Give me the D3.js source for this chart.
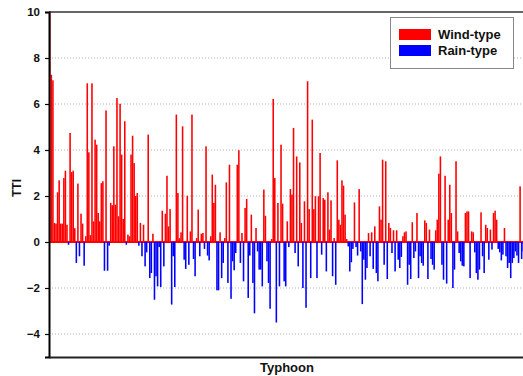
<!DOCTYPE html>
<html><head><meta charset="utf-8">
<script src="https://cdn.jsdelivr.net/npm/d3@7"></script>
<style>body{margin:0;background:#fff}svg{display:block;font-family:"Liberation Sans",Arial,sans-serif}</style>
</head><body><svg id="c" width="523" height="376"></svg>
<script>
// TTI value of each typhoon, left to right (three stretches)
const ttiA = [10, 7.27, 7.03, 0.83, 0.8, 2.16, 2.68, 0.8, 0.8, 2.78,
  3.1, 0.75, -0.12, 4.74, 3.04, 3.1, 0.6, -0.91, 2.54, -0.62,
  1.23, 0.8, -1.03, 0.25, 6.9, 3.9, 0.3, 6.9, 0.9, 4.45,
  4.23, 1.26, 0.9, 2.56, 2.64, -1.25, 5.72, -1.25, -0.16, 1.7,
  1.6, 4.16, 1.62, 6.26, 1.12, 6.01, 3.8, 1.0, 5.25, -0.12,
  0.32, 0.25, 3.8, 4.62, 3.43, 2.0, 2.13, -0.16, 0.83, -0.62,
  0.75, -1.06, -0.45, 4.67, -1.57, -1.35, 0.36, -2.51, -1.49, -1.93,
  -0.22, -1.96, 1.36, -1.06, 1.23, 2.88, 0.68, 1.43, -2.72, -0.62,
  -1.96, 5.54, 2.13, 0.17, 0.42, 5.03, -0.77, -1.17, 2.01, -0.99,
  0.46, 5.54, -0.74, -1.49, 0.17, 1.41, -0.62, 0.36, 0.39];
const ttiB = [-0.3, 4.16, -0.59, -0.8, 0.25, 2.93, 1.7, 2.49, -2.1, -2.1,
  0.42, -1.57, -0.91, 0.17, 2.59, -1.78, 3.36, -2.47, -0.84, -1.23,
  -0.48, 3.36, 3.99, -0.91, 0.39, -1.71, 1.48, 1.87, -2.43, -0.59,
  1.19, -1.78, -3.1, 0.61, -0.41, -1.2, -1.2, -1.93, 2.28, 1.14,
  -0.84, -1.78, -2.9, 0.13, 6.22, 2.78, -3.5, 1.7, -1.93, 4.23,
  1.67, -1.71, -1.93, 0.9, -0.22, 2.3, 2.06, 4.96, -0.48, 3.72,
  -1.06, 3.46, 0.83, -2.0, 1.77, -2.86, 6.99, 1.43, -1.57, 5.32,
  1.43, 1.99, -1.57, 1.99, 3.87, -0.55, 1.91, 1.84, -1.28, 2.16,
  0.54, 1.81, -1.49, 0.17, -1.86, 3.55, 0.97, 0.75, 2.68, 2.45,
  1.19, 0.13, -0.19, -1.28, -0.88, -0.3, 1.72, -0.22, -0.59, 2.3,
  -0.41, -2.7, -0.77];
const ttiC = [-1.64, -1.13, 0.39, -0.62, 0.42, -1.17, 0.68, -1.35, -1.71,
  1.55, 0.97, 3.58, -0.99, 3.51, -1.61, 0.83, 0.61, -0.48, 0.51,
  -1.28, 0.51, -0.77, -1.13, -0.65, 0.25, 0.42, 0.46, -1.86,
  -0.99, -1.61, 0.86, -0.7, -0.41, 1.26, -1.57, -0.62, -0.91,
  -1.03, 0.94, 0.83, -1.61, 0.54, -0.74, -0.99, -1.2, 0.51,
  0.97, 2.97, 3.72, -0.99, -1.64, 2.88, -1.81, 0.97, 2.49, 1.26,
  -2.0, -1.2, 3.51, 0.46, -0.48, -0.84, -1.03, -1.06,
  1.26, 1.33, 1.33, -1.57, 0.46, 0.42, -0.45, -1.35, -1.64,
  -1.2, 1.29, -0.62, -1.35, 0.75, 0.61, -0.77, 0.54, -0.33,
  1.26, 1.36, 0.97, -0.3, -0.45, -0.8, -0.55, 0.61, -0.62,
  -1.13, -0.91, -1.57, -0.91, -0.7,
  -0.41, -0.59, -0.91, 2.42, -0.74, -0.41];
const tti = ttiA.concat(ttiB, ttiC);

const yTicks = [-4, -2, 0, 2, 4, 6, 8, 10];
const gridTicks = [-4, -2, 2, 4, 6, 8];
const seriesNames = ["Wind-type", "Rain-type"];
const seriesColors = ["#ff0000", "#0000ff"];
const xTitle = "Typhoon", yTitle = "TTI";

const svg = d3.select("#c");
const L = 49, R = 524, T = 12, B = 357;

const x = d3.scaleBand().domain(d3.range(tti.length)).range([L, R]).padding(0);
const y = d3.scaleLinear().domain([-5, 10]).range([B, T]);

// dotted grid
svg.append("g").selectAll("line").data(gridTicks).join("line")
  .attr("x1", L).attr("x2", R + 5)
  .attr("y1", d => y(d)).attr("y2", d => y(d))
  .attr("stroke", "#b0b0b0").attr("stroke-width", 1)
  .attr("stroke-dasharray", "1,2");

// zero line
svg.append("line").attr("x1", L).attr("x2", R + 5)
  .attr("y1", y(0)).attr("y2", y(0))
  .attr("stroke", seriesColors[0]).attr("stroke-width", 2);

// bars
svg.append("g").selectAll("rect").data(tti).join("rect")
  .attr("x", (d, i) => x(i))
  .attr("width", x.bandwidth())
  .attr("y", d => d >= 0 ? y(d) : y(0))
  .attr("height", d => Math.abs(y(d) - y(0)))
  .attr("fill", d => d >= 0 ? seriesColors[0] : seriesColors[1]);

// frame: top border
svg.append("line").attr("x1", L).attr("x2", 523).attr("y1", T).attr("y2", T)
  .attr("stroke", "#666").attr("stroke-width", 2);

// left axis
const yAxis = d3.axisLeft(y).tickValues(yTicks).tickSize(4).tickPadding(5).tickFormat(d3.format("d"));
const gy = svg.append("g").attr("transform", `translate(${L},0)`).call(yAxis);
gy.select(".domain").attr("stroke", "#000").attr("stroke-width", 2);
gy.selectAll(".tick line").attr("stroke", "#000").attr("stroke-width", 1.2);
gy.selectAll(".tick text").attr("font-size", 11.5).attr("font-weight", "bold")
  .attr("fill", "#111").attr("font-family", "Liberation Sans, Arial, sans-serif");

// bottom axis line
const xAxis = d3.axisBottom(x).tickValues([]).tickSizeOuter(0);
const gx = svg.append("g").attr("transform", `translate(0,${B})`).call(xAxis);
gx.select(".domain").attr("stroke", "#222").attr("stroke-width", 2);

// titles
svg.append("text").attr("x", 287).attr("y", 372).attr("text-anchor", "middle")
  .attr("font-size", 13).attr("font-weight", "bold").attr("fill", "#111").text(xTitle);
svg.append("text").attr("transform", "translate(21,188) rotate(-90)").attr("text-anchor", "middle")
  .attr("font-size", 12).attr("font-weight", "bold").attr("fill", "#111").text(yTitle);

// legend
const lg = svg.append("g");
lg.append("rect").attr("x", 390.5).attr("y", 17.5).attr("width", 123).attr("height", 51)
  .attr("fill", "#fff").attr("stroke", "#888").attr("stroke-width", 1);
const items = lg.selectAll("g.item").data(seriesNames).join("g").attr("class", "item")
  .attr("transform", (d, i) => `translate(399,${29 + i * 16})`);
items.append("rect").attr("width", 32).attr("height", 11).attr("fill", (d, i) => seriesColors[i]);
items.append("text").attr("x", 39).attr("y", 10).attr("font-size", 13).attr("font-weight", "bold")
  .attr("fill", "#111").text(d => d);
</script></body></html>
